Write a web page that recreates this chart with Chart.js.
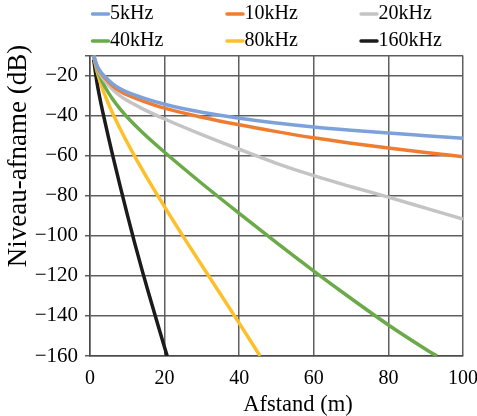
<!DOCTYPE html>
<html>
<head>
<meta charset="utf-8">
<script src="https://cdn.jsdelivr.net/npm/chart.js@4.4.1/dist/chart.umd.min.js"></script>
<style>
  html, body { margin: 0; padding: 0; background: #fff; }
</style>
</head>
<body>
<canvas id="chart" width="477" height="416"></canvas>
<script>
const seriesNames = ['5kHz', '10kHz', '20kHz', '40kHz', '80kHz', '160kHz'];
const seriesColors = ['#7da2db', '#ef7d31', '#c4c4c4', '#6aaa48', '#fec02a', '#1b1b1b'];

const xTicks = [0, 20, 40, 60, 80, 100];
const yTicks = [-160, -140, -120, -100, -80, -60, -40, -20];

const dist5k = [1, 1.5, 2, 3, 4, 6, 8, 10, 14, 20, 30, 40, 50, 60, 70, 80, 90, 100];
const level5k = [-10, -13, -15.5, -18.5, -20.5, -24, -26.5, -28.3, -31, -34.3, -38.3, -41.3, -43.7, -45.7, -47.3, -48.7, -50, -51.3];

const dist10k = [1, 1.5, 2, 3, 4, 6, 8, 10, 14, 20, 30, 40, 50, 60, 70, 80, 90, 100];
const level10k = [-10, -13.3, -16, -19, -21.3, -25, -27.7, -29.7, -32.6, -36.3, -40.8, -44.6, -48, -51.1, -53.8, -56.2, -58.4, -60.5];

const dist20k = [1, 1.5, 2, 3, 4, 6, 8, 10, 14, 20, 30, 40, 50, 60, 70, 80, 90, 100];
const level20k = [-10, -13.8, -16.6, -20, -22.7, -26.8, -30, -32.5, -36.5, -41.7, -49.5, -56.8, -63.8, -70, -75.5, -80.7, -86.2, -91.7];

const dist40k = [1, 1.5, 2, 3, 4, 6, 8, 10, 14, 20, 30, 40, 50, 60, 70, 80, 90, 93];
const level40k = [-10, -14.1, -17.2, -21.9, -25.6, -31.6, -36.5, -40.8, -48.3, -58.3, -73.9, -88.8, -103.4, -117.6, -131.3, -144.5, -156.6, -160];

const dist80k = [1, 1.5, 2, 3, 4, 6, 8, 11, 14, 20, 25, 30, 35, 40, 45.6];
const level80k = [-10, -14.8, -18.6, -24.7, -29.8, -38.6, -46.3, -57, -67, -85.6, -100.4, -114.8, -129.2, -143.6, -160];

const dist160k = [1, 1.5, 2, 3, 4, 5, 6, 8, 10, 12, 14, 16, 18, 20, 20.7];
const level160k = [-12, -19, -25, -34.5, -43, -51.2, -59.2, -74.6, -89.4, -103.8, -117.4, -130.4, -143.2, -155.8, -160];

const allDist = [dist5k, dist10k, dist20k, dist40k, dist80k, dist160k];
const allLevel = [level5k, level10k, level20k, level40k, level80k, level160k];

const serif = '"Liberation Serif", "Times New Roman", serif';

const datasets = seriesNames.map((name, i) => ({
    label: name,
    data: allDist[i].map((d, j) => ({ x: d, y: allLevel[i][j] })),
    borderColor: seriesColors[i],
    backgroundColor: seriesColors[i],
    borderWidth: 3.5,
    pointRadius: 0,
    cubicInterpolationMode: 'monotone',
    fill: false
}));

// legend in three fixed columns plus the axis titles, placed like the original
const extrasPlugin = {
    id: 'extras',
    afterDraw(chart) {
        const ctx = chart.ctx;
        ctx.save();
        ctx.font = '20px ' + serif;
        ctx.fillStyle = '#000';
        ctx.textBaseline = 'middle';
        ctx.textAlign = 'left';
        const colX = [91.5, 226, 360];
        const rowY = [14, 41];
        chart.data.datasets.forEach((ds, i) => {
            const x = colX[i % 3];
            const y = rowY[Math.floor(i / 3)];
            ctx.strokeStyle = ds.borderColor;
            ctx.lineWidth = 3.5;
            ctx.lineCap = 'round';
            ctx.beginPath();
            ctx.moveTo(x + 1, y);
            ctx.lineTo(x + 17, y);
            ctx.stroke();
            ctx.fillText(ds.label, x + 18.5, y);
        });

        ctx.font = '22.5px ' + serif;
        ctx.textAlign = 'center';
        ctx.fillText('Afstand (m)', 298, 405);

        ctx.font = '27px ' + serif;
        ctx.translate(19, 156);
        ctx.rotate(-Math.PI / 2);
        ctx.fillText('Niveau-afname (dB)', 0, 0);
        ctx.restore();
    }
};

new Chart(document.getElementById('chart'), {
    type: 'line',
    data: { datasets: datasets },
    options: {
        responsive: false,
        animation: false,
        layout: { padding: { left: 0, top: 55.5, right: 14, bottom: 0 } },
        plugins: {
            legend: { display: false },
            tooltip: { enabled: false }
        },
        scales: {
            x: {
                type: 'linear',
                min: 0,
                max: 100,
                afterBuildTicks: (scale) => { scale.ticks = xTicks.map(v => ({ value: v })); },
                afterFit: (scale) => {
                    scale.height = 60;
                    scale.paddingLeft = 0;
                    scale.paddingRight = 0;
                },
                ticks: {
                    color: '#000',
                    font: { family: serif, size: 20 },
                    padding: 11,
                    maxRotation: 0
                },
                grid: { color: '#5e5e5e', lineWidth: 1.5, drawTicks: false },
                border: { color: '#4a4a4a', width: 1.5 }
            },
            y: {
                type: 'linear',
                min: -160,
                max: -10,
                afterBuildTicks: (scale) => { scale.ticks = yTicks.concat([-10]).map(v => ({ value: v })); },
                afterFit: (scale) => {
                    scale.width = 90;
                    scale.paddingTop = 0;
                    scale.paddingBottom = 0;
                },
                ticks: {
                    color: '#000',
                    font: { family: serif, size: 21 },
                    padding: 7,
                    callback: (v) => (v === -10 ? '' : String(v).replace('-', '\u2212'))
                },
                grid: { color: '#5e5e5e', lineWidth: 1.5, tickLength: 5 },
                border: { color: '#4a4a4a', width: 1.5 }
            }
        }
    },
    plugins: [extrasPlugin]
});
</script>
</body>
</html>
